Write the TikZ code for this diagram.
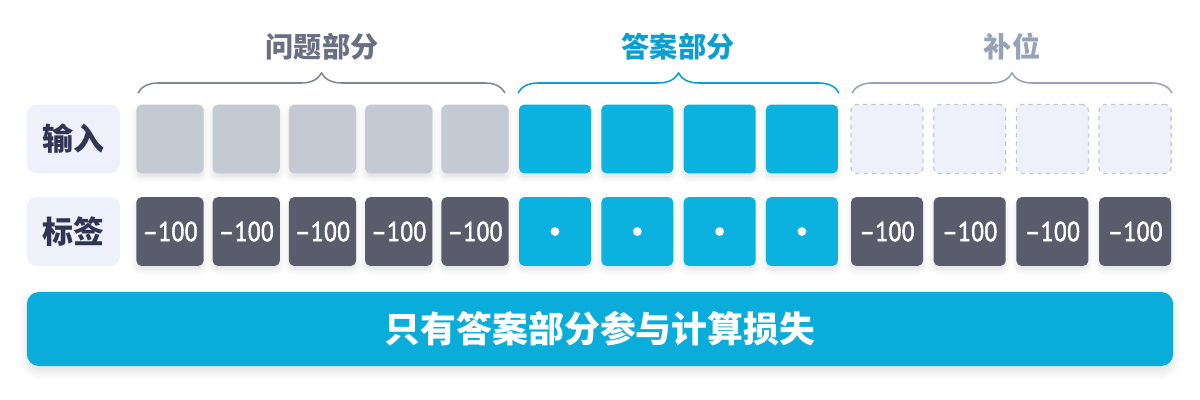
\documentclass[tikz,border=0pt]{standalone}
\usepackage{fontspec}
\setmainfont{Noto Sans CJK SC}
\newfontfamily\numfont[FakeStretch=0.88,FakeBold=1.6]{PT Sans}
\usetikzlibrary{decorations.pathreplacing,shadows.blur}

\definecolor{ansblue}{HTML}{0BB2DF}
\definecolor{barblue}{HTML}{0AACD9}
\definecolor{qgray}{HTML}{C4C9D2}
\definecolor{darkcell}{HTML}{5A5C6B}
\definecolor{labfill}{HTML}{EEF0FB}
\definecolor{labtext}{HTML}{2F3552}
\definecolor{qtitle}{HTML}{6A6F82}
\definecolor{atitle}{HTML}{0A9FCF}
\definecolor{ptitle}{HTML}{97A2B8}
\definecolor{padfill}{HTML}{EFF0FA}
\definecolor{padline}{HTML}{C5C9D6}

\tikzset{
  cell/.style={rounded corners=0.13cm, minimum width=1.8cm, minimum height=1.72cm,
    inner sep=0pt, blur shadow={shadow xshift=0pt, shadow yshift=-3pt,
    shadow blur radius=4pt, shadow opacity=12}},
  qcell/.style={cell, fill=qgray, minimum width=1.68cm},
  acell/.style={cell, fill=ansblue},
  pcell/.style={rounded corners=0.13cm, minimum width=1.8cm, minimum height=1.72cm,
    fill=padfill, draw=padline, dashed, line width=0.9pt},
  dcell/.style={cell, fill=darkcell, text=white, font=\numfont\fontsize{19.5}{19.5}\selectfont},
  rowlab/.style={rounded corners=0.25cm, fill=labfill, minimum width=2.33cm,
    minimum height=1.72cm, text=labtext, font=\fontsize{22}{22}\selectfont\bfseries},
  title/.style={font=\fontsize{20}{20}\selectfont\bfseries},
  brc/.style={decorate, decoration={brace, amplitude=0.5cm}, line width=1.1pt},
  bar/.style={rounded corners=0.3cm, fill=barblue, minimum width=28.65cm,
    minimum height=1.85cm, text=white, font=\fontsize{25.5}{25.5}\selectfont\bfseries,
    blur shadow={shadow xshift=0pt, shadow yshift=-4pt, shadow blur radius=6pt,
    shadow opacity=12}}
}

\begin{document}
\begin{tikzpicture}[x=0.025cm,y=-0.025cm]
  \useasboundingbox (0,0) rectangle (1200,400);
  % 行标题
  \node[rowlab] (in) at (73.5,139) {输入};
  \node[rowlab] (lab) at (73.5,231.5) {标签};
  % 问题部分
  \foreach \i in {1,...,5}{
    \node[qcell] (q\i) at ({170+76.25*(\i-1)},139) {};
    \node[dcell,minimum width=1.68cm] (lq\i) at ({170+76.25*(\i-1)},231.5) {–100};
  }
  % 答案部分
  \foreach \i in {1,...,4}{
    \node[acell] (a\i) at ({555+82.3*(\i-1)},139) {};
    \node[acell] (la\i) at ({555+82.3*(\i-1)},231.5) {};
    \fill[white] (la\i) circle[radius=0.11cm];
  }
  % 补位
  \foreach \i in {1,...,4}{
    \node[pcell] (p\i) at ({887+82.7*(\i-1)},139) {};
    \node[dcell] (lp\i) at ({887+82.7*(\i-1)},231.5) {–100};
  }
  % 括号
  \coordinate (qb1) at (138,93);
  \coordinate (qb2) at (505,93);
  \coordinate (ab1) at (518,93);
  \coordinate (ab2) at (839,93);
  \coordinate (pb1) at (852,93);
  \coordinate (pb2) at (1172,93);
  \draw[brc, draw=qtitle!85] (qb1) -- (qb2);
  \draw[brc, draw=atitle] (ab1) -- (ab2);
  \draw[brc, draw=ptitle] (pb1) -- (pb2);
  \node[title, text=qtitle] (tq) at (322,47) {问题部分};
  \node[title, text=atitle] (ta) at (678,47) {答案部分};
  \node[title, text=ptitle] (tp) at (1012,47) {补位};
  % 损失
  \node[bar] (loss) at (600,329) {只有答案部分参与计算损失};
\end{tikzpicture}
\end{document}
